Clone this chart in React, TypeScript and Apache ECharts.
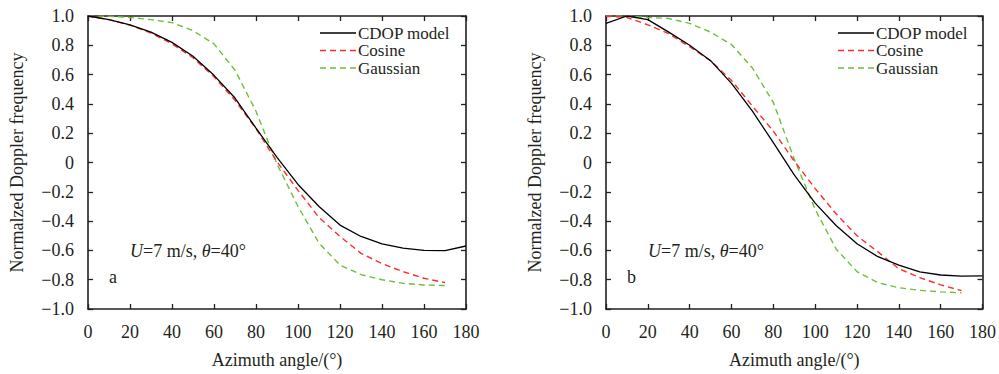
import React, { useEffect, useRef } from "react";
import * as echarts from "echarts";

const ANGLES = [0, 10, 20, 30, 40, 50, 60, 70, 80, 90, 100, 110, 120, 130, 140, 150, 160, 170, 180];
const X_TICKS = [0, 20, 40, 60, 80, 100, 120, 140, 160, 180];

// Panel a
const CDOP_A = [1.0, 0.975, 0.94, 0.89, 0.82, 0.725, 0.595, 0.44, 0.235, 0.035, -0.15, -0.3, -0.427, -0.505, -0.555, -0.585, -0.6, -0.602, -0.57];
const COSINE_A = [1.0, 0.975, 0.938, 0.884, 0.81, 0.715, 0.585, 0.425, 0.23, 0.005, -0.19, -0.375, -0.505, -0.62, -0.69, -0.745, -0.79, -0.82];
const GAUSS_A = [1.0, 0.998, 0.99, 0.975, 0.955, 0.9, 0.81, 0.63, 0.35, -0.01, -0.3, -0.55, -0.7, -0.765, -0.8, -0.825, -0.836, -0.84];

// Panel b
const CDOP_B = [0.95, 1.0, 0.975, 0.89, 0.8, 0.695, 0.54, 0.35, 0.135, -0.085, -0.277, -0.43, -0.555, -0.643, -0.7, -0.747, -0.768, -0.776, -0.774];
const COSINE_B = [1.0, 0.99, 0.94, 0.88, 0.79, 0.695, 0.56, 0.385, 0.214, 0.01, -0.178, -0.35, -0.5, -0.61, -0.725, -0.786, -0.835, -0.875];
const GAUSS_B = [1.0, 1.0, 0.99, 0.983, 0.95, 0.89, 0.805, 0.645, 0.41, 0.023, -0.32, -0.59, -0.745, -0.82, -0.855, -0.873, -0.883, -0.89];

const SERIES_NAMES = ["CDOP model", "Cosine", "Gaussian"];
const PANEL_LABELS = ["a", "b"];
const X_TITLE = "Azimuth angle/(°)";
const Y_TITLE = "Normalzed Doppler frequency";

const FONT = "'Liberation Serif', 'Times New Roman', Times, serif";
const TEXT_COLOR = "#231f20";
const AXIS_COLOR = "#231f20";
const COLORS = ["#000000", "#ff2b2b", "#6dbf3a"];

const pairs = (vals: number[]) => vals.map((v, i) => [ANGLES[i], v]);

const fmtY = (v: number) => {
  const r = Math.round(v * 10) / 10;
  if (r === 0) return "0";
  return (r < 0 ? "\u2212" : "") + Math.abs(r).toFixed(1);
};

export default function App() {
  const ref = useRef<HTMLDivElement>(null);

  useEffect(() => {
    if (!ref.current) return;
    const chart = echarts.init(ref.current, undefined, { renderer: "svg" });

    const grids = [
      { left: 88, top: 16, width: 378, height: 293 },
      { left: 606, top: 16, width: 378, height: 293 },
    ];

    const axisLine = { show: true, onZero: false, lineStyle: { color: AXIS_COLOR, width: 1.6 } };
    const axisTick = { show: true, inside: true, length: 5, lineStyle: { color: AXIS_COLOR, width: 1.3 } };
    const labelStyle = { fontFamily: FONT, fontSize: 18, color: TEXT_COLOR };

    const xAxes: any[] = [];
    const yAxes: any[] = [];
    grids.forEach((_, g) => {
      xAxes.push({
        type: "value", gridIndex: g, min: 0, max: 180, interval: 20, position: "bottom",
        axisLine, axisTick, splitLine: { show: false },
        axisLabel: { ...labelStyle, margin: 14, formatter: (v: number) => (X_TICKS.includes(v) ? String(v) : "") },
        name: X_TITLE, nameLocation: "middle", nameGap: 42,
        nameTextStyle: { fontFamily: FONT, fontSize: 18, color: TEXT_COLOR },
      });
      xAxes.push({
        type: "value", gridIndex: g, min: 0, max: 180, interval: 20, position: "top",
        axisLine, axisTick, splitLine: { show: false }, axisLabel: { show: false },
      });
      yAxes.push({
        type: "value", gridIndex: g, min: -1, max: 1, interval: 0.2, position: "left",
        axisLine, axisTick, splitLine: { show: false },
        axisLabel: { ...labelStyle, margin: 14, formatter: fmtY },
        name: Y_TITLE, nameLocation: "middle", nameGap: 62, nameRotate: 90,
        nameTextStyle: { fontFamily: FONT, fontSize: 18, color: TEXT_COLOR },
      });
      yAxes.push({
        type: "value", gridIndex: g, min: -1, max: 1, interval: 0.2, position: "right",
        axisLine, axisTick, splitLine: { show: false }, axisLabel: { show: false },
      });
    });

    const panelData = [
      [CDOP_A, COSINE_A, GAUSS_A],
      [CDOP_B, COSINE_B, GAUSS_B],
    ];

    const series: any[] = [];
    panelData.forEach((sets, g) => {
      sets.forEach((vals, k) => {
        series.push({
          type: "line",
          name: SERIES_NAMES[k],
          xAxisIndex: g * 2,
          yAxisIndex: g * 2,
          data: pairs(vals),
          symbol: "none",
          smooth: false,
          lineStyle: {
            color: COLORS[k],
            width: k === 0 ? 1.3 : 1.4,
            type: k === 0 ? "solid" : [6, 4],
          },
          z: 3 - k,
        });
      });
    });

    const graphics: any[] = [];
    grids.forEach((gr, g) => {
      // legend
      const lx = gr.left + 232;
      const rows = [33, 50.5, 68];
      SERIES_NAMES.forEach((nm, k) => {
        graphics.push({
          type: "line",
          shape: { x1: lx, y1: rows[k], x2: lx + 36, y2: rows[k] },
          style: { stroke: COLORS[k], lineWidth: 1.4, lineDash: k === 0 ? null : [6, 4] },
        });
        graphics.push({
          type: "text",
          x: lx + 38,
          y: rows[k],
          style: {
            text: nm, fontFamily: FONT, fontSize: 17, lineHeight: 17, fill: TEXT_COLOR,
            verticalAlign: "middle", align: "left",
          },
        });
      });
      // annotation
      graphics.push({
        type: "text",
        x: gr.left + 42,
        y: 251,
        style: {
          text: "{i|U}=7 m/s, {i|θ}=40°",
          fontFamily: FONT, fontSize: 18, fill: TEXT_COLOR, verticalAlign: "middle", align: "left",
          rich: { i: { fontStyle: "italic", fontFamily: FONT, fontSize: 18, fill: TEXT_COLOR } },
        },
      });
      graphics.push({
        type: "text",
        x: gr.left + 21,
        y: 277,
        style: { text: PANEL_LABELS[g], fontFamily: FONT, fontSize: 18, fill: TEXT_COLOR, verticalAlign: "middle", align: "left" },
      });
    });

    chart.setOption({
      animation: false,
      backgroundColor: "#ffffff",
      grid: grids.map((g) => ({ ...g, containLabel: false })),
      xAxis: xAxes,
      yAxis: yAxes,
      series,
      graphic: graphics,
    });

    return () => chart.dispose();
  }, []);

  return (
    <div
      ref={ref}
      style={{ position: "fixed", left: 0, top: 0, width: 999, height: 374, background: "#fff" }}
    />
  );
}
